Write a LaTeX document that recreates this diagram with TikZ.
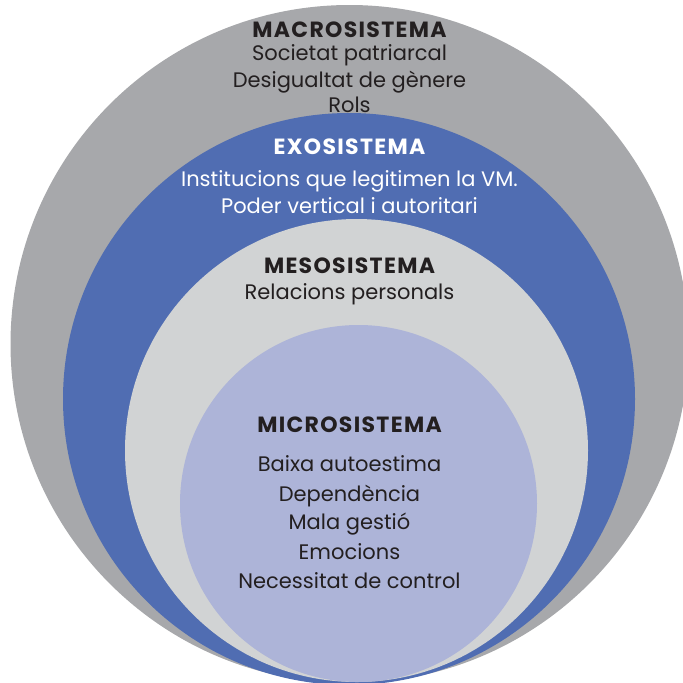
\documentclass[tikz,border=0pt]{standalone}
\usepackage{fontspec}
\setmainfont{Poppins}
\definecolor{macro}{HTML}{A7A8AB}
\definecolor{exo}{HTML}{506DB2}
\definecolor{meso}{HTML}{D1D3D4}
\definecolor{micro}{HTML}{ADB4D8}
\definecolor{ink}{HTML}{231F20}
\begin{document}
\begin{tikzpicture}[x=1pt,y=-1pt,
  title/.style={font=\fontsize{22}{24}\selectfont\bfseries\addfontfeatures{LetterSpace=6},
                text=ink, inner sep=0pt, anchor=base},
  body/.style={font=\fontsize{21}{24}\selectfont, text=ink, inner sep=0pt, anchor=base}]
\useasboundingbox (0,0) rectangle (683,683);
\begin{scope}
\clip (0,0) rectangle (683,683);
% nested spheres of the ecological model
\fill[macro] (349.5,344) circle[radius=339];
\fill[exo]   (349,399) circle[radius=286];
\fill[meso]  (356.5,450.5) circle[radius=231.5];
\fill[micro] (358.5,503.5) circle[radius=178.5];
\end{scope}
% macrosystem
\node[title] (macroT) at (349.5,37) {MACROSISTEMA};
\node[body] (macro1) at (349.5,60) {Societat patriarcal};
\node[body] (macro2) at (349.5,87) {Desigualtat de gènere};
\node[body] (macro3) at (349.5,112) {Rols};
% exosystem
\node[title, text=white] (exoT) at (349.5,154.5) {EXOSISTEMA};
\node[body, text=white] (exo1) at (349.5,186) {Institucions que legitimen la VM.};
\node[body, text=white] (exo2) at (349.5,213) {Poder vertical i autoritari};
% mesosystem
\node[title] (mesoT) at (349.5,273.5) {MESOSISTEMA};
\node[body] (meso1) at (349.5,299.5) {Relacions personals};
% microsystem
\node[title] (microT) at (349.5,432.5) {MICROSISTEMA};
\node[body] (micro1) at (349.5,471.5) {Baixa autoestima};
\node[body] (micro2) at (349.5,501) {Dependència};
\node[body] (micro3) at (349.5,529) {Mala gestió};
\node[body] (micro4) at (349.5,559.5) {Emocions};
\node[body] (micro5) at (349.5,588.5) {Necessitat de control};
\end{tikzpicture}
\end{document}
